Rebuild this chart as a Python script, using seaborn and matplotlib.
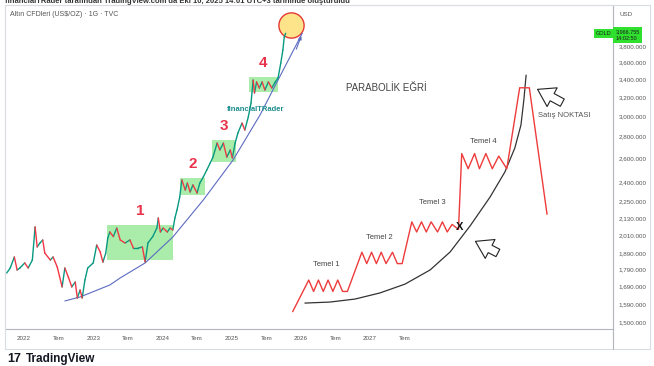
import numpy as np
import pandas as pd
import matplotlib
matplotlib.use("Agg")
import matplotlib.pyplot as plt
import matplotlib.transforms as mtransforms
from matplotlib.patches import Rectangle
import seaborn as sns

# gold daily closes (decimal year, USD/oz)
t_year = [2021.75, 2021.80, 2021.86, 2021.90, 2021.94, 2022.01, 2022.06, 2022.12, 2022.16, 2022.19,
          2022.23, 2022.27, 2022.30, 2022.38, 2022.42, 2022.48, 2022.55, 2022.59, 2022.64, 2022.69,
          2022.74, 2022.77, 2022.81, 2022.84, 2022.88, 2022.92, 2023.00, 2023.05, 2023.10, 2023.14,
          2023.18, 2023.21, 2023.24, 2023.29, 2023.34, 2023.39, 2023.46, 2023.53, 2023.58, 2023.65,
          2023.71, 2023.75, 2023.79, 2023.86, 2023.92, 2023.94, 2023.97, 2024.01, 2024.07, 2024.11,
          2024.15, 2024.18, 2024.21, 2024.25, 2024.28, 2024.33, 2024.36, 2024.40, 2024.44, 2024.50,
          2024.54, 2024.59, 2024.64, 2024.69, 2024.73, 2024.79, 2024.83, 2024.88, 2024.93, 2024.98,
          2025.01, 2025.05, 2025.09, 2025.15, 2025.19, 2025.24, 2025.28, 2025.31, 2025.33, 2025.36,
          2025.40, 2025.44, 2025.48, 2025.53, 2025.58, 2025.63, 2025.67, 2025.71, 2025.74, 2025.76,
          2025.78]
close = [1769, 1799, 1867, 1787, 1799, 1830, 1799, 1848, 2066, 1931,
         1957, 1977, 1892, 1848, 1867, 1805, 1688, 1799, 1745, 1688,
         1716, 1626, 1671, 1626, 1728, 1799, 1830, 1944, 1900, 1835,
         1890, 1990, 2031, 2000, 2058, 1977, 1957, 1977, 1924, 1924,
         1931, 1836, 1957, 2000, 2058, 2129, 2031, 2058, 2031, 2058,
         2045, 2129, 2187, 2285, 2420, 2339, 2395, 2324, 2380, 2316,
         2395, 2444, 2502, 2562, 2614, 2740, 2677, 2740, 2614, 2677,
         2606, 2740, 2834, 2931, 2863, 2991, 3136, 3388, 3243, 3366,
         3298, 3366, 3276, 3366, 3298, 3366, 3411, 3588, 3748, 3916,
         3966]

# parabolic support line drawn on the chart
curve_t = [2022.59, 2022.81, 2023.24, 2023.39, 2023.75, 2024.15, 2024.59, 2025.02, 2025.41, 2025.67, 2026.02]
curve_p = [1610, 1632, 1699, 1740, 1830, 1997, 2262, 2588, 3012, 3388, 3966]

# consolidation boxes 1-4
box_labels = ["1", "2", "3", "4"]
box_t0 = [2023.20, 2024.25, 2024.72, 2025.25]
box_t1 = [2024.15, 2024.62, 2025.06, 2025.67]
box_lo = [1848, 2300, 2571, 3254]
box_hi = [2079, 2436, 2768, 3422]

price_ticks = [1500, 1590, 1690, 1790, 1890, 2010, 2130, 2250, 2400, 2600, 2800, 3000, 3200, 3400, 3600, 3800]
date_ticks = [2022, 2022.5, 2023, 2023.5, 2024, 2024.5, 2025, 2025.5, 2026, 2026.5, 2027, 2027.5]
date_labels = ["2022", "Tem", "2023", "Tem", "2024", "Tem", "2025", "Tem", "2026", "Tem", "2027", "Tem"]

# schematic "parabolic curve" drawing pasted on the right (diagram units 0-100)
zig_x = [3, 8, 9.5, 11, 12.5, 14, 15.5, 17, 18.5, 20,
         24.5, 26, 27.5, 29, 30.5, 32, 34, 35.5, 37,
         40, 41.5, 43, 44.5, 46, 48, 49.5, 51, 52.5, 54.5,
         55.5, 57.5, 59.5, 61, 63, 65, 67, 69.5,
         73.5, 76.5, 82]
zig_y = [2.5, 15, 10.5, 15, 10.5, 15, 10.5, 15, 10.5, 10.5,
         26, 21.5, 26, 21.5, 26, 21.5, 26, 21.5, 21.5,
         38, 34, 38, 34, 38, 34, 38, 34, 37, 35,
         65, 59, 65, 59, 65, 59, 64, 59,
         91, 91, 41]
para_x = [6.8, 14.6, 22.4, 30.1, 37.9, 45.7, 51.9, 58.1, 64.3, 68.9, 72.0, 73.9, 74.8, 75.5]
para_y = [5.9, 6.3, 7.5, 9.9, 13.4, 19.0, 26.1, 36.4, 47.8, 57.7, 67.2, 76.3, 86.2, 96.0]
stage_names = ["Temel 1", "Temel 2", "Temel 3", "Temel 4"]
stage_x = [13.4, 29.8, 46.3, 62.1]
stage_y = [21.3, 32.0, 45.5, 69.6]

sns.set_theme(style="white")
plt.rcParams["font.family"] = ["Liberation Sans", "DejaVu Sans"]

fig = plt.figure(figsize=(6.54, 3.66), dpi=100)
fig.patch.set_facecolor("white")
ax = fig.add_axes([5 / 654, 37 / 366, 608 / 654, 324 / 366])

# price as up/down coloured segments (looks like the candle strip)
rows = []
for i in range(len(close) - 1):
    d = "up" if close[i + 1] >= close[i] else "down"
    rows.append((t_year[i], close[i], i, d))
    rows.append((t_year[i + 1], close[i + 1], i, d))
df = pd.DataFrame(rows, columns=["t", "price", "seg", "dir"])

ax.set_yscale("log")
for lab, a, b, lo, hi in zip(box_labels, box_t0, box_t1, box_lo, box_hi):
    ax.add_patch(Rectangle((a, lo), b - a, hi - lo, fc="#8ee88e", ec="none", alpha=0.75, zorder=1))
    ax.text((a + b) / 2, hi * 1.025, lab, ha="center", va="bottom",
            color="#e8334a", fontsize=11, fontweight="bold", zorder=5)

ax.scatter([2025.86], [4077], s=330, fc="#fde38a", ec="#e53935", lw=1.0, zorder=2)

sns.lineplot(data=df, x="t", y="price", units="seg", estimator=None, hue="dir",
             palette={"up": "#089981", "down": "#f23645"}, lw=1.0, legend=False, ax=ax, zorder=3)
sns.lineplot(x=curve_t, y=curve_p, sort=False, color="#5c6bc0", lw=0.8, ax=ax, zorder=2)
ax.annotate("", xy=(curve_t[-1], curve_p[-1]), xytext=(curve_t[-2] + 0.25, curve_p[-2] * 1.1),
            arrowprops=dict(arrowstyle="-|>", color="#5c6bc0", lw=0.8, mutation_scale=5))

ax.text(2025.34, 3063, "financialTRader", ha="center", va="center", fontsize=5.5,
        fontweight="bold", color="#1e8e8e", zorder=5)

ax.set_xlim(2021.725, 2030.51)
ax.set_ylim(1465, 4362)
ax.yaxis.tick_right()
ax.set_yticks(price_ticks)
ax.set_yticklabels([f"{v:,.3f}" for v in price_ticks])
ax.yaxis.set_minor_locator(matplotlib.ticker.NullLocator())
ax.set_xticks(date_ticks)
ax.set_xticklabels(date_labels)
ax.tick_params(axis="y", length=0, pad=4, labelsize=4.5, labelcolor="#555555")
ax.tick_params(axis="x", length=0, pad=5, labelsize=4.5, labelcolor="#555555")
ax.set_xlabel("")
ax.set_ylabel("")
for s in ["left", "top"]:
    ax.spines[s].set_color("#e0e3eb")
    ax.spines[s].set_linewidth(0.8)
for s in ["right", "bottom"]:
    ax.spines[s].set_color("#b2b5be")
    ax.spines[s].set_linewidth(0.8)

# last price tags
blend = mtransforms.blended_transform_factory(ax.transAxes, ax.transData)
ax.text(0.997, 3966, "GOLD", transform=blend, ha="right", va="center", fontsize=4, color="#1b1b1b",
        bbox=dict(boxstyle="square,pad=0.35", fc="#2fe02f", ec="none"), zorder=6, clip_on=False)
ax.text(1.004, 4020, "3,966.755\n14:02:50", transform=blend, ha="left", va="top", fontsize=4,
        color="#1b1b1b", linespacing=1.35,
        bbox=dict(boxstyle="square,pad=0.4", fc="#2fe02f", ec="none"), zorder=6, clip_on=False)

# frame around chart + date axis
fig.add_artist(Rectangle((5 / 654, 17 / 366), 645 / 654, 344 / 366, transform=fig.transFigure,
                         fill=False, ec="#d9dce3", lw=0.8))
fig.add_artist(plt.Line2D([613 / 654, 613 / 654], [17 / 366, 37 / 366], transform=fig.transFigure,
                          color="#b2b5be", lw=0.8))

fig.text(0.008, 0.995, "financialTRader tarafından TradingView.com'da Eki 10, 2025 14:01 UTC+3 tarihinde oluşturuldu",
         ha="left", va="center", fontsize=5.5, fontweight="bold", color="#333333")
fig.text(10 / 654, 1 - 14 / 366, "Altın CFDleri (US$/OZ) · 1G · TVC", ha="left", va="center",
         fontsize=5, color="#555555")
fig.text(620 / 654, 1 - 15 / 366, "USD", ha="left", va="center", fontsize=4.5, color="#555555")
fig.text(7 / 654, 1 - 359 / 366, "17", ha="left", va="center", fontsize=9, fontweight="heavy", color="#131722")
fig.text(26 / 654, 1 - 359 / 366, "TradingView", ha="left", va="center", fontsize=8.5,
         fontweight="semibold", color="#131722")

# overlay diagram
ax2 = fig.add_axes([283 / 654, 48 / 366, 322 / 654, 253 / 366])
ax2.set_xlim(0, 100)
ax2.set_ylim(0, 100)
ax2.axis("off")
ax2.patch.set_alpha(0)
sns.lineplot(x=para_x, y=para_y, sort=False, color="#333333", lw=0.9, ax=ax2)
sns.lineplot(x=zig_x, y=zig_y, sort=False, color="#ee3b3b", lw=1.0, ax=ax2)
for name, x, y in zip(stage_names, stage_x, stage_y):
    ax2.text(x, y, name, ha="center", va="center", fontsize=5.5, color="#444444")
ax2.text(32.0, 90.9, "PARABOLİK EĞRİ", ha="center", va="center", fontsize=7, color="#444444")
ax2.text(79.2, 80.2, "Satış NOKTASI", ha="left", va="center", fontsize=5.5, color="#555555")
ax2.text(54.7, 36.0, "X", ha="center", va="center", fontsize=8, fontweight="bold", color="#111111")
arrow_style = dict(arrowstyle="simple,head_length=0.7,head_width=0.9,tail_width=0.35",
                   fc="white", ec="#222222", lw=0.8, mutation_scale=17)
ax2.annotate("", xy=(59.0, 30.8), xytext=(67.5, 25.2), arrowprops=arrow_style)
ax2.annotate("", xy=(78.3, 90.9), xytext=(87.5, 84.6), arrowprops=arrow_style)

fig.savefig("out.png", dpi=100, facecolor="white")
